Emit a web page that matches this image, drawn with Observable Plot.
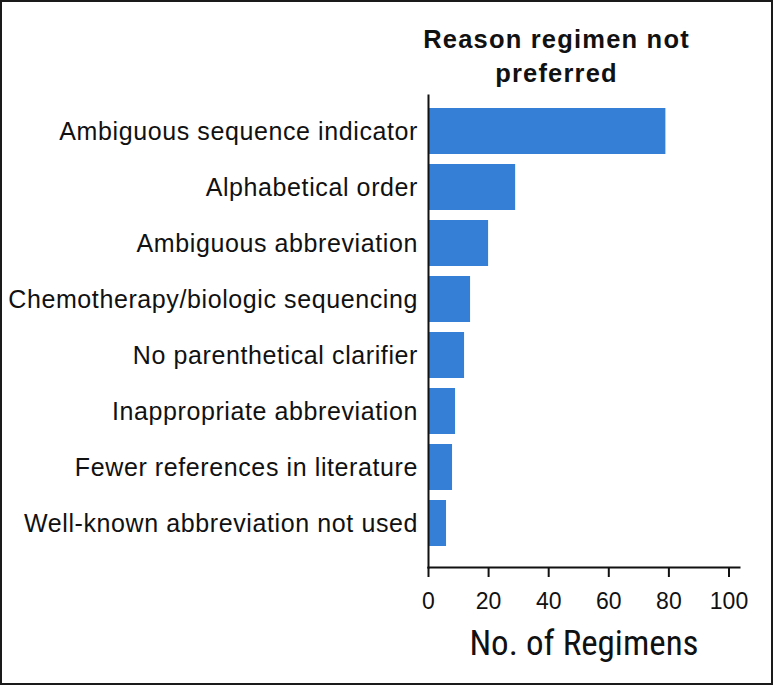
<!DOCTYPE html>
<html><head><meta charset="utf-8">
<script src="https://cdn.jsdelivr.net/npm/d3@7"></script>
<script src="https://cdn.jsdelivr.net/npm/@observablehq/plot@0.6"></script>
<style>
body{margin:0;background:#fff;}
#wrap{position:relative;width:773px;height:685px;overflow:hidden;}
#wrap svg{position:absolute;left:0;top:0;}
#border{position:absolute;left:0;top:0;width:773px;height:685px;box-sizing:border-box;border:2px solid #1a1a1a;pointer-events:none;}
</style>
</head><body>
<div id="wrap"><div id="border"></div></div>
<script>
const categories = [
  "Ambiguous sequence indicator",
  "Alphabetical order",
  "Ambiguous abbreviation",
  "Chemotherapy/biologic sequencing",
  "No parenthetical clarifier",
  "Inappropriate abbreviation",
  "Fewer references in literature",
  "Well-known abbreviation not used"
];
const counts = [79, 29, 20, 14, 12, 9, 8, 6];
const xTicks = [0, 20, 40, 60, 80, 100];
const titleText = "Reason regimen not\npreferred";
const xLabel = "No. of Regimens";

const data = categories.map((c, i) => ({reason: c, n: counts[i]}));

const chart = Plot.plot({
  width: 773,
  height: 685,
  marginLeft: 428,
  marginRight: 34,
  marginTop: 95,
  marginBottom: 118,
  style: {fontFamily: "'Liberation Sans', Arial, sans-serif", color: "#111", background: "transparent"},
  x: {domain: [0, 103.5], ticks: xTicks, label: null},
  y: {domain: categories, padding: 0.171, insetTop: 0.3, insetBottom: 8, label: null},
  marks: [
    Plot.barX(data, {x: "n", y: "reason", fill: "#3580d6"}),
    Plot.frame({anchor: "left", stroke: "#111", strokeWidth: 2}),
    Plot.frame({anchor: "bottom", stroke: "#111", strokeWidth: 2}),
    Plot.axisY({tickSize: 0, tickPadding: 10.5, fontSize: 25, label: null}),
    Plot.axisX({ticks: xTicks, tickSize: 10, tickPadding: 15, fontSize: 23, strokeWidth: 2, label: null}),
    Plot.text([titleText], {frameAnchor: "top", dx: -27.5, dy: -14, lineAnchor: "bottom", lineHeight: 1.3,
      fontSize: 25.5, fontWeight: "bold", fill: "#111"}),
    Plot.text([xLabel], {frameAnchor: "bottom", dy: 87.3, lineAnchor: "bottom",
      fontSize: 35, fill: "#111", fontFamily: "'Liberation Sans Narrow', 'Roboto Condensed', Roboto, sans-serif"})
  ]
});
const svg = d3.select(chart);
svg.selectAll("text").each(function() {
  const t = this.textContent;
  if (t.startsWith("Reason") || t.includes("preferred")) d3.select(this).style("letter-spacing", "1.2px");
  else if (categories.includes(t)) d3.select(this).style("letter-spacing", "0.6px");
});
document.getElementById("wrap").insertBefore(chart, document.getElementById("border"));
</script>
</body></html>
